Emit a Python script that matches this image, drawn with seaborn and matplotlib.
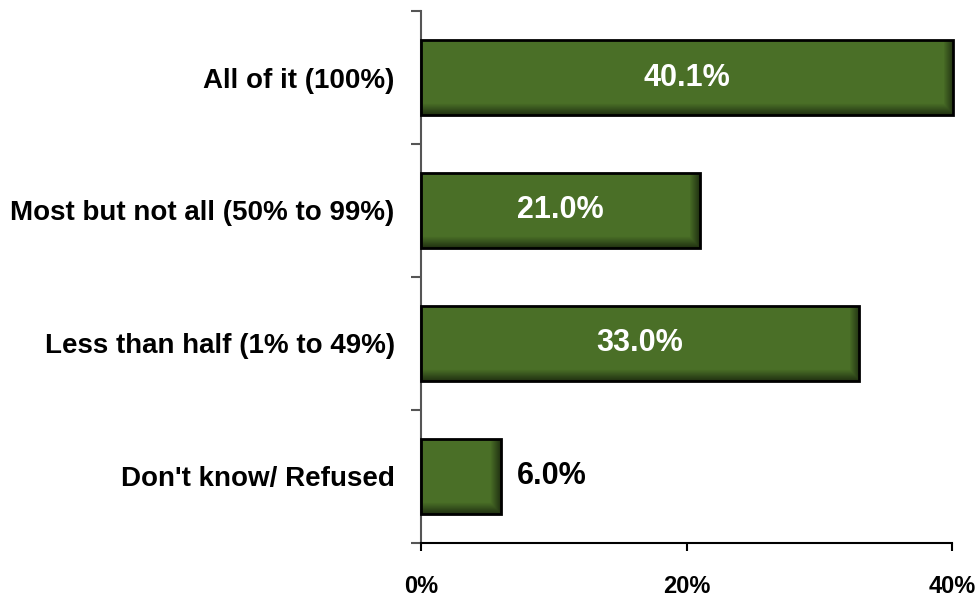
import numpy as np
import pandas as pd
import matplotlib
matplotlib.use("Agg")
import matplotlib.pyplot as plt
from matplotlib.patches import Rectangle
import seaborn as sns

# chart values
categories = ["All of it (100%)", "Most but not all (50% to 99%)",
              "Less than half (1% to 49%)", "Don't know/ Refused"]
values = [40.1, 21.0, 33.0, 6.0]
value_labels = ["40.1%", "21.0%", "33.0%", "6.0%"]
x_ticks = [0, 20, 40]
x_tick_labels = ["0%", "20%", "40%"]

sns.set_style("white")
plt.rcParams['font.family'] = ['Liberation Sans', 'DejaVu Sans']
plt.rcParams['text.color'] = 'black'
plt.rcParams['xtick.color'] = 'black'
plt.rcParams['ytick.color'] = 'black'

df = pd.DataFrame({"cat": categories, "val": values})

fig = plt.figure(figsize=(9.78, 5.96), dpi=100)
ax = fig.add_axes([0.4305, 0.089, 0.543, 0.8925])

bar_green = "#4a6f27"
sns.barplot(data=df, x="val", y="cat", orient="h", color=bar_green,
            edgecolor="none", width=0.56, ax=ax, saturation=1)

ax.set_xlim(0, 40)
ax.set_ylim(3.5, -0.5)

# soft darker shading along bottom and right edges, then black outline
px_per_x = 530 / 40.0
px_per_y = 133.0
for p in list(ax.patches):
    x0, y0 = p.get_x(), p.get_y()
    w, h = p.get_width(), p.get_height()
    wpx, hpx = int(w * px_per_x), int(h * px_per_y)
    rows = np.arange(hpx)[:, None]
    cols = np.arange(wpx)[None, :]
    a_b = np.clip((rows - (hpx - 12)) / 12.0, 0, 1)
    a_r = np.clip((cols - (wpx - 11)) / 11.0, 0, 1)
    alpha = np.maximum(a_b, a_r) * 0.6
    img = np.zeros((hpx, wpx, 4))
    img[..., 3] = alpha
    ax.imshow(img, extent=(x0, x0 + w, y0 + h, y0), origin="upper",
              aspect="auto", zorder=2.5, clip_on=False, interpolation="bilinear")
    ax.add_patch(Rectangle((x0, y0), w, h, fill=False, edgecolor="black",
                           linewidth=2, zorder=3, clip_on=False))
    p.set_clip_on(False)

ax.set_xlim(0, 40)
ax.set_ylim(3.5, -0.5)

# labels on bars
for i, (v, lab) in enumerate(zip(values, value_labels)):
    if v > 10:
        ax.text(v / 2, i, lab, ha="center", va="center", color="white",
                fontsize=22, fontweight="bold", zorder=4)
    else:
        ax.text(v + 1.2, i, lab, ha="left", va="center", color="black",
                fontsize=22, fontweight="bold", zorder=4)

ax.set_xlabel("")
ax.set_ylabel("")
ax.set_xticks(x_ticks)
ax.set_xticklabels(x_tick_labels, fontsize=17, fontweight="bold")
ax.set_yticks(range(len(categories)))
ax.set_yticklabels(categories, fontsize=20, fontweight="bold")
ax.set_yticks(np.arange(-0.5, len(categories), 1.0), minor=True)

ax.tick_params(axis="y", which="major", length=0, pad=19)
ax.tick_params(axis="y", which="minor", length=7, width=1.5, color="#555555", left=True)
ax.tick_params(axis="x", which="major", length=6, width=1.5, color="black", bottom=True, pad=17)

sns.despine(ax=ax, top=True, right=True)
ax.spines["left"].set_color("#555555")
ax.spines["left"].set_linewidth(1.5)
ax.spines["bottom"].set_color("black")
ax.spines["bottom"].set_linewidth(1.5)

fig.savefig("out.png", dpi=100)
